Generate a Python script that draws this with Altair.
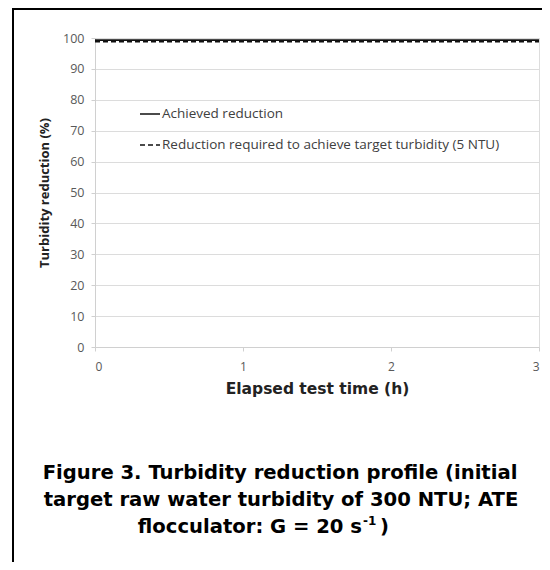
import altair as alt
import pandas as pd

# Data
times = [0, 0.5, 1, 1.5, 2, 2.5, 3]
achieved = [99.3, 99.3, 99.3, 99.3, 99.3, 99.3, 99.3]
required = [98.8, 98.8, 98.8, 98.8, 98.8, 98.8, 98.8]
series_names = ["Achieved reduction",
                "Reduction required to achieve target turbidity (5 NTU)"]
y_ticks = list(range(0, 101, 10))
x_ticks = [0, 1, 2, 3]

rows = []
for t, a, r in zip(times, achieved, required):
    rows.append({"t": t, "v": a, "s": series_names[0]})
    rows.append({"t": t, "v": r, "s": series_names[1]})
df = pd.DataFrame(rows)

W, H = 444, 309
AXIS_FONT = "Open Sans"
CAP_FONT = "DejaVu Sans"

lines = alt.Chart(df).mark_line(strokeWidth=1.8, color="#111111").encode(
    x=alt.X("t:Q", scale=alt.Scale(domain=[0, 3], nice=False),
            axis=alt.Axis(values=x_ticks, title="Elapsed test time (h)", grid=False,
                          format="d", labelFont=AXIS_FONT, labelFontSize=12,
                          labelColor="#595959", titleFont="DejaVu Sans", titleFontSize=15.5,
                          titleFontWeight="bold", titleColor="#222222",
                          tickSize=4, tickColor="#d0d0d0", domainColor="#d0d0d0",
                          labelPadding=10, titlePadding=9)),
    y=alt.Y("v:Q", scale=alt.Scale(domain=[0, 100], nice=False),
            axis=alt.Axis(values=y_ticks, title="Turbidity reduction (%)",
                          gridColor="#dcdcdc", labelFont=AXIS_FONT, labelFontSize=12.5,
                          labelColor="#595959", titleFont=AXIS_FONT, titleFontSize=13,
                          titleFontWeight="bold", titleColor="#222222",
                          tickSize=4, tickColor="#d0d0d0", domainColor="#d0d0d0",
                          labelPadding=7, titlePadding=11)),
    strokeDash=alt.StrokeDash("s:N",
        scale=alt.Scale(domain=series_names, range=[[1, 0], [5, 3]]),
        legend=alt.Legend(title=None, orient="none", legendX=44, legendY=65,
                          symbolType="stroke", symbolSize=400, symbolStrokeWidth=1.6,
                          symbolStrokeColor="#111111", labelFont=AXIS_FONT,
                          labelFontSize=13.5, labelColor="#404040", labelOffset=1,
                          rowPadding=13, padding=0, labelLimit=600)),
)

cap_style = dict(font=CAP_FONT, fontSize=19.6, fontWeight="bold", color="#000000")
cap1 = alt.Chart().mark_text(align="center", baseline="alphabetic", **cap_style).encode(
    x=alt.value(185), y=alt.value(441),
    text=alt.value("Figure 3. Turbidity reduction profile (initial"))
cap2 = alt.Chart().mark_text(align="center", baseline="alphabetic", **cap_style).encode(
    x=alt.value(186), y=alt.value(468),
    text=alt.value("target raw water turbidity of 300 NTU; ATE"))
cap3 = alt.Chart().mark_text(align="right", baseline="alphabetic", **cap_style).encode(
    x=alt.value(267), y=alt.value(495),
    text=alt.value("flocculator: G = 20 s"))
cap3sup = alt.Chart().mark_text(align="left", baseline="alphabetic", font=CAP_FONT,
                                fontSize=12, fontWeight="bold", color="#000000").encode(
    x=alt.value(268), y=alt.value(487), text=alt.value("-1"))
cap3end = alt.Chart().mark_text(align="left", baseline="alphabetic", **cap_style).encode(
    x=alt.value(285), y=alt.value(495), text=alt.value(")"))

left_border = alt.Chart().mark_rule(color="#000000", strokeWidth=2).encode(
    x=alt.value(-82), y=alt.value(-32), y2=alt.value(530))
top_border = alt.Chart().mark_rule(color="#000000", strokeWidth=2).encode(
    x=alt.value(-83), x2=alt.value(470), y=alt.value(-29))

chart = alt.layer(lines, cap1, cap2, cap3, cap3sup, cap3end, left_border, top_border).properties(
    width=W, height=H,
    autosize=alt.AutoSizeParams(type="none"),
    padding={"left": 87, "top": 30, "right": 3, "bottom": 215},
).configure_view(stroke=None).configure(background="white")

chart.save("out.html", embed_options={"renderer": "svg", "actions": False})
